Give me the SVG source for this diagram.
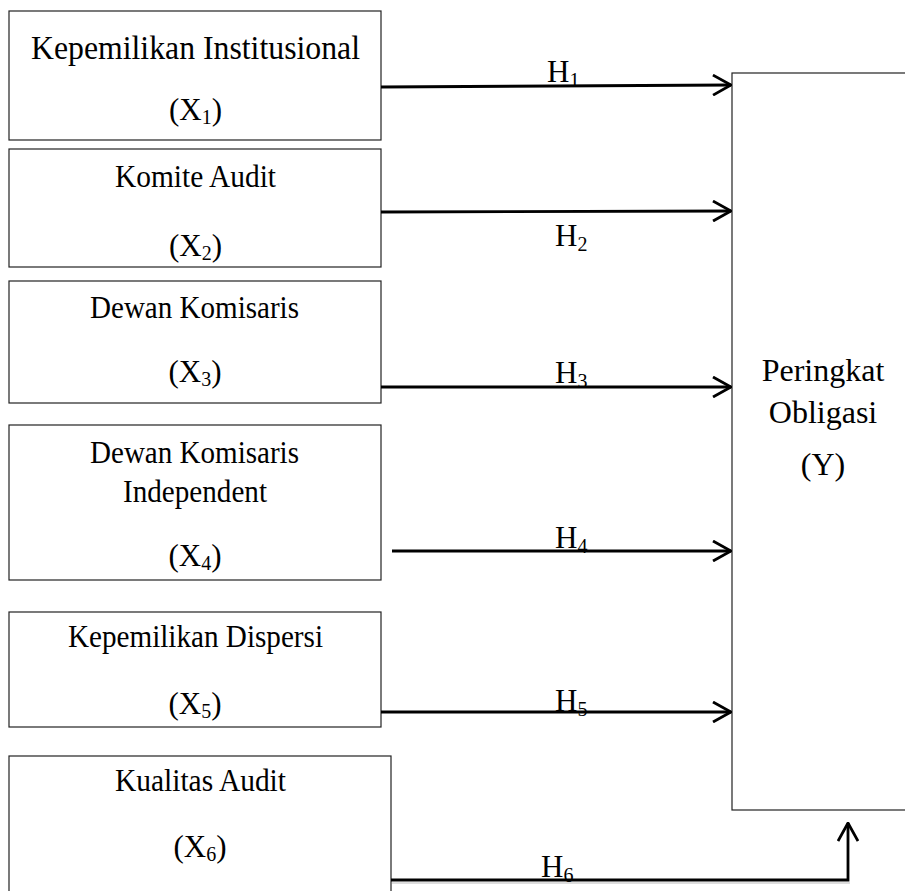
<svg xmlns="http://www.w3.org/2000/svg" width="905" height="891" viewBox="0 0 905 891">
<defs>
<style>
.box{fill:#fff;stroke:#222;stroke-width:1.2}
.t{font-family:"Liberation Serif","Times New Roman",serif;font-size:31px;fill:#000;text-anchor:middle}
.big{font-size:33px}
.yb{font-size:32px}
.sub{font-size:20px}
.ln{fill:none;stroke:#000;stroke-width:2.8}
.hl{font-family:"Liberation Serif","Times New Roman",serif;font-size:31px;fill:#000}
</style>
<marker id="ah" viewBox="0 0 20 22" refX="19" refY="11" markerWidth="20" markerHeight="22" markerUnits="userSpaceOnUse" orient="auto">
<path d="M1,1 L19,11 L1,21" fill="none" stroke="#000" stroke-width="2.8"/>
</marker>
</defs>
<rect width="905" height="891" fill="#fff"/>
<g id="y">
<rect class="box" x="732" y="73" width="190" height="737"/>
<text class="t yb" x="823" y="381">Peringkat</text>
<text class="t yb" x="823" y="423">Obligasi</text>
<text class="t yb" x="823" y="475">(Y)</text>
</g>
<g id="x1">
<rect class="box" x="9" y="11" width="372" height="129"/>
<text class="t big" x="195.5" y="59" textLength="329" lengthAdjust="spacingAndGlyphs">Kepemilikan Institusional</text>
<text class="t" x="195.5" y="120">(X<tspan class="sub" dy="4">1</tspan><tspan dy="-4">)</tspan></text>
</g>
<g id="x2">
<rect class="box" x="9" y="149" width="372" height="118"/>
<text class="t" x="195.5" y="187" textLength="161" lengthAdjust="spacingAndGlyphs">Komite Audit</text>
<text class="t" x="195.5" y="256">(X<tspan class="sub" dy="4">2</tspan><tspan dy="-4">)</tspan></text>
</g>
<g id="x3">
<rect class="box" x="9" y="281" width="372" height="122"/>
<text class="t" x="194.5" y="318" textLength="209" lengthAdjust="spacingAndGlyphs">Dewan Komisaris</text>
<text class="t" x="195" y="382">(X<tspan class="sub" dy="4">3</tspan><tspan dy="-4">)</tspan></text>
</g>
<g id="x4">
<rect class="box" x="9" y="425" width="372" height="155"/>
<text class="t" x="194.5" y="463" textLength="209" lengthAdjust="spacingAndGlyphs">Dewan Komisaris</text>
<text class="t" x="195" y="502" textLength="144" lengthAdjust="spacingAndGlyphs">Independent</text>
<text class="t" x="195" y="566">(X<tspan class="sub" dy="4">4</tspan><tspan dy="-4">)</tspan></text>
</g>
<g id="x5">
<rect class="box" x="9" y="612" width="372" height="115"/>
<text class="t" x="195.5" y="647" textLength="255" lengthAdjust="spacingAndGlyphs">Kepemilikan Dispersi</text>
<text class="t" x="195" y="714">(X<tspan class="sub" dy="4">5</tspan><tspan dy="-4">)</tspan></text>
</g>
<g id="x6">
<rect class="box" x="9" y="756" width="382" height="150"/>
<text class="t" x="200.5" y="791" textLength="171" lengthAdjust="spacingAndGlyphs">Kualitas Audit</text>
<text class="t" x="200" y="857">(X<tspan class="sub" dy="4">6</tspan><tspan dy="-4">)</tspan></text>
</g>
<g id="connectors">
<line class="ln" x1="381" y1="87" x2="731" y2="85" marker-end="url(#ah)"/>
<line class="ln" x1="381" y1="212" x2="731" y2="211" marker-end="url(#ah)"/>
<line class="ln" x1="381" y1="387" x2="731" y2="387" marker-end="url(#ah)"/>
<line class="ln" x1="392" y1="551" x2="731" y2="551" marker-end="url(#ah)"/>
<line class="ln" x1="381" y1="712" x2="731" y2="712" marker-end="url(#ah)"/>
<line x1="392" y1="883" x2="850" y2="883" stroke="#ddd" stroke-width="2"/>
<polyline class="ln" points="391,880 848,880 848,823" marker-end="url(#ah)"/>
<text class="hl" x="547" y="82">H<tspan class="sub" dy="5">1</tspan></text>
<text class="hl" x="555" y="246">H<tspan class="sub" dy="5">2</tspan></text>
<text class="hl" x="555" y="383">H<tspan class="sub" dy="5">3</tspan></text>
<text class="hl" x="555" y="548">H<tspan class="sub" dy="5">4</tspan></text>
<text class="hl" x="555" y="711">H<tspan class="sub" dy="5">5</tspan></text>
<text class="hl" x="541" y="877">H<tspan class="sub" dy="5">6</tspan></text>
</g>
</svg>
